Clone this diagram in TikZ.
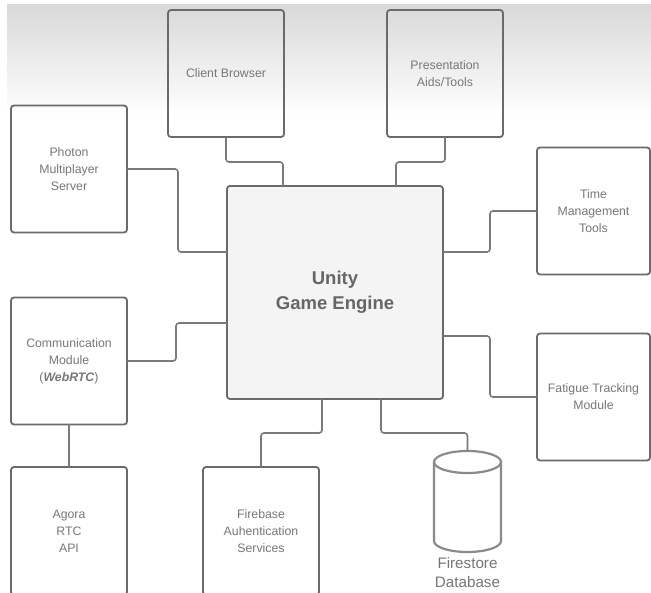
\documentclass[tikz,border=0pt]{standalone}
\usepackage{fontspec}
\setmainfont{Liberation Sans}
\usetikzlibrary{calc}
\definecolor{boxline}{HTML}{6A6A6A}
\definecolor{connline}{HTML}{7A7A7A}
\definecolor{txt}{HTML}{777777}
\definecolor{bigtxt}{HTML}{666666}
\definecolor{cylline}{HTML}{8A8A8A}
\definecolor{unityfill}{HTML}{F4F4F4}
\tikzset{
  boxnode/.style={draw=boxline, line width=1.8pt, rounded corners=3pt, inner sep=0pt, outer sep=0pt,
    minimum width=116pt, minimum height=127pt, align=center, text=txt,
    font=\fontsize{12.3}{17}\selectfont},
  conn/.style={draw=connline, line width=1.6pt, rounded corners=3pt},
  cyl/.style={draw=cylline, line width=2.2pt},
}
\begin{document}
\begin{tikzpicture}[x=1pt,y=-1pt]
\useasboundingbox (0,0) rectangle (651,593);
\clip (0,0) rectangle (651,593);
\fill[white] (0,0) rectangle (651,593);
\shade[top color=black!15, bottom color=white] (7,5) rectangle (651,115);

\node[boxnode] (cb) at (226,73.5) {Client Browser};
\node[boxnode] (pa) at (445,73.5) {Presentation\\Aids/Tools};
\node[boxnode] (ph) at (69,169) {Photon\\Multiplayer\\Server};
\node[boxnode, minimum width=113pt] (tm) at (593.5,211) {Time\\Management\\Tools};
\node[boxnode, minimum width=216pt, minimum height=213pt, fill=unityfill, text=bigtxt,
  font=\bfseries\fontsize{18.5}{25}\selectfont] (uge) at (335,292.5) {Unity\\Game Engine};
\node[boxnode] (cm) at (69,361) {Communication\\Module\\(\textbf{\textit{WebRTC}})};
\node[boxnode, minimum width=113pt] (fa) at (593.5,397) {Fatigue Tracking\\Module};
\node[boxnode, minimum height=128pt] (ag) at (69,531) {Agora\\RTC\\API};
\node[boxnode, minimum height=128pt] (fb) at (261,531) {Firebase\\Auhentication\\Services};

% Firestore cylinder
\node[inner sep=0pt, outer sep=0pt, minimum width=67pt, minimum height=101pt] (db) at (467.5,501.5) {};
\fill[white] ([yshift=-11pt]db.north west) rectangle ([yshift=11pt]db.south east);
\draw[cyl] ([yshift=-11pt]db.north west) -- ([yshift=11pt]db.south west)
  arc[start angle=180, end angle=360, x radius=33.5pt, y radius=11pt]
  -- ([yshift=-11pt]db.north east);
\draw[cyl] ([yshift=-11pt]db.north) ellipse [x radius=33.5pt, y radius=11pt];
\node[text=txt, align=center, font=\fontsize{15.2}{19}\selectfont, anchor=north, inner sep=1pt] (dbl) at ([yshift=-4pt]db.south) {Firestore\\Database};

% connectors
\draw[conn] (cb.south) -- ++(0,25) -| ([xshift=-52pt]uge.north);
\draw[conn] (pa.south) -- ++(0,25) -| ([xshift=61pt]uge.north);
\draw[conn] (ph.east) -- ++(51,0) |- ([yshift=40.5pt]uge.west);
\draw[conn] (tm.west) -- ++(-47,0) |- ([yshift=40.5pt]uge.east);
\draw[conn] (cm.east) -- ++(49,0) |- ([yshift=-30.5pt]uge.west);
\draw[conn] (fa.west) -- ++(-47,0) |- ([yshift=-43.5pt]uge.east);
\draw[conn] (cm.south) -- (ag.north);
\draw[conn] ([xshift=-13pt]uge.south) -- ++(0,34) -| (fb.north);
\draw[conn] ([xshift=46pt]uge.south) -- ++(0,34) -| (db.north);
\end{tikzpicture}
\end{document}
